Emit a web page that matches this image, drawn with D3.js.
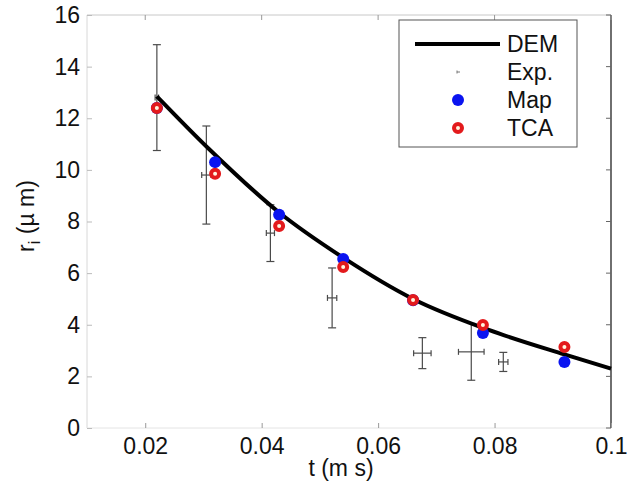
<!DOCTYPE html>
<html>
  <head>
    <meta charset="utf-8">
    <script src="https://d3js.org/d3.v7.min.js"></script>
    <style>
      body { margin: 0; background: #fff; }
      svg text { font-family: "Liberation Sans", Arial, sans-serif; fill: #111; }
    </style>
  </head>
<body>
  <script type="text/javascript">
    "use strict";
    // DEM curve
    var demT = [0.022, 0.031, 0.043, 0.054, 0.066, 0.079, 0.092, 0.1];
    var demR = [12.85, 10.8, 8.35, 6.6, 5.0, 3.8, 2.85, 2.3];
    // experimental points with error bars
    var expT = [0.022, 0.0305, 0.0415, 0.0521, 0.0676, 0.0760, 0.0815];
    var expR = [12.8, 9.8, 7.55, 5.04, 2.9, 2.95, 2.56];
    var expRErr = [2.05, 1.9, 1.1, 1.16, 0.6, 1.1, 0.37];
    var expTErr = [0.0003, 0.0008, 0.0007, 0.0008, 0.0015, 0.0022, 0.0008];
    // Map and TCA model points
    var modelT = [0.022, 0.032, 0.043, 0.054, 0.066, 0.078, 0.092];
    var mapR = [12.4, 10.3, 8.26, 6.55, 4.95, 3.68, 2.56];
    var tcaR = [12.4, 9.85, 7.83, 6.24, 4.96, 3.99, 3.14];
    // axes
    var xTicks = [0.02, 0.04, 0.06, 0.08, 0.1];
    var xTickLabels = ["0.02", "0.04", "0.06", "0.08", "0.1"];
    var yTicks = [0, 2, 4, 6, 8, 10, 12, 14, 16];
    var legendLabels = ["DEM", "Exp.", "Map", "TCA"];

    var width = 627, height = 485,
        plotLeft = 87, plotRight = 611, plotTop = 15, plotBottom = 428,
        fontSize = 23;

    var svg = d3.select("body").append("svg")
      .attr("width", width)
      .attr("height", height);

    var x = d3.scaleLinear().domain([0.01, 0.1]).range([plotLeft, plotRight]);
    var y = d3.scaleLinear().domain([0, 16]).range([plotBottom, plotTop]);

    //
    // frame: faint on left/top/bottom, dark on the right
    //
    var frame = svg.append("g").attr("class", "frame");
    frame.append("line").attr("x1", plotLeft).attr("x2", plotRight).attr("y1", plotTop).attr("y2", plotTop)
      .attr("stroke", "#c8c8c8");
    frame.append("line").attr("x1", plotLeft).attr("x2", plotLeft).attr("y1", plotTop).attr("y2", plotBottom)
      .attr("stroke", "#d8d8d8");
    frame.append("line").attr("x1", plotLeft).attr("x2", plotRight).attr("y1", plotBottom).attr("y2", plotBottom)
      .attr("stroke", "#e4e4e4");
    frame.append("line").attr("x1", plotRight).attr("x2", plotRight).attr("y1", plotTop).attr("y2", plotBottom)
      .attr("stroke", "#222").attr("stroke-width", 1.3);

    //
    // axes (ticks pointing inward)
    //
    var xAxis = d3.axisBottom(x).tickValues(xTicks)
      .tickSize(-5).tickPadding(10)
      .tickFormat(function(d, i) { return xTickLabels[i]; });
    var gx = svg.append("g")
      .attr("transform", "translate(0," + plotBottom + ")")
      .call(xAxis);
    gx.select(".domain").remove();
    gx.selectAll(".tick line").attr("stroke", "#999");
    gx.selectAll("text").attr("font-size", fontSize).attr("dy", "0.71em");

    var yAxis = d3.axisLeft(y).tickValues(yTicks)
      .tickSize(-5).tickPadding(7);
    var gy = svg.append("g")
      .attr("transform", "translate(" + plotLeft + ",0)")
      .call(yAxis);
    gy.select(".domain").remove();
    gy.selectAll(".tick line").attr("stroke", "#bbb");
    gy.selectAll("text").attr("font-size", fontSize);

    // mirrored ticks on top and right
    svg.append("g").selectAll("line").data(xTicks).enter().append("line")
      .attr("x1", function(d) { return x(d); }).attr("x2", function(d) { return x(d); })
      .attr("y1", plotTop).attr("y2", plotTop + 5).attr("stroke", "#999");
    svg.append("g").selectAll("line").data(yTicks).enter().append("line")
      .attr("x1", plotRight - 5).attr("x2", plotRight)
      .attr("y1", function(d) { return y(d); }).attr("y2", function(d) { return y(d); })
      .attr("stroke", "#666");

    // axis titles
    svg.append("text")
      .attr("x", 341).attr("y", 476)
      .attr("text-anchor", "middle")
      .attr("font-size", fontSize)
      .text("t (m s)");
    var yl = svg.append("text")
      .attr("transform", "translate(34,216)rotate(-90)")
      .attr("text-anchor", "middle")
      .attr("font-size", fontSize);
    yl.append("tspan").text("r");
    yl.append("tspan").attr("font-size", 16).attr("dy", 6).text("i");
    yl.append("tspan").attr("dy", -6).text(" (\u00b5 m)");

    //
    // experimental error bars
    //
    var expData = expT.map(function(t, i) {
      return { t: t, r: expR[i], er: expRErr[i], et: expTErr[i] };
    });
    var eb = svg.append("g").attr("class", "exp")
      .selectAll("g").data(expData).enter().append("g")
      .attr("stroke", "#4a4a4a").attr("stroke-width", 1.2);
    eb.append("line")
      .attr("x1", function(d) { return x(d.t); }).attr("x2", function(d) { return x(d.t); })
      .attr("y1", function(d) { return y(d.r + d.er); }).attr("y2", function(d) { return y(d.r - d.er); });
    eb.append("line")
      .attr("x1", function(d) { return x(d.t) - 4; }).attr("x2", function(d) { return x(d.t) + 4; })
      .attr("y1", function(d) { return y(d.r + d.er); }).attr("y2", function(d) { return y(d.r + d.er); });
    eb.append("line")
      .attr("x1", function(d) { return x(d.t) - 4; }).attr("x2", function(d) { return x(d.t) + 4; })
      .attr("y1", function(d) { return y(d.r - d.er); }).attr("y2", function(d) { return y(d.r - d.er); });
    eb.append("line")
      .attr("x1", function(d) { return x(d.t - d.et); }).attr("x2", function(d) { return x(d.t + d.et); })
      .attr("y1", function(d) { return y(d.r); }).attr("y2", function(d) { return y(d.r); });
    eb.append("line")
      .attr("x1", function(d) { return x(d.t - d.et); }).attr("x2", function(d) { return x(d.t - d.et); })
      .attr("y1", function(d) { return y(d.r) - 3; }).attr("y2", function(d) { return y(d.r) + 3; });
    eb.append("line")
      .attr("x1", function(d) { return x(d.t + d.et); }).attr("x2", function(d) { return x(d.t + d.et); })
      .attr("y1", function(d) { return y(d.r) - 3; }).attr("y2", function(d) { return y(d.r) + 3; });

    //
    // DEM curve
    //
    var line = d3.line()
      .x(function(d, i) { return x(demT[i]); })
      .y(function(d) { return y(d); })
      .curve(d3.curveMonotoneX);
    svg.append("path")
      .datum(demR)
      .attr("d", line)
      .attr("fill", "none")
      .attr("stroke", "#000")
      .attr("stroke-width", 4);

    //
    // Map and TCA markers
    //
    svg.append("g").selectAll("circle").data(mapR).enter().append("circle")
      .attr("cx", function(d, i) { return x(modelT[i]); })
      .attr("cy", function(d) { return y(d); })
      .attr("r", 6)
      .attr("fill", "#0a14f0");
    svg.append("g").selectAll("circle").data(tcaR).enter().append("circle")
      .attr("cx", function(d, i) { return x(modelT[i]); })
      .attr("cy", function(d) { return y(d); })
      .attr("r", 4)
      .attr("fill", "#fff6e0")
      .attr("stroke", "#e31a1c")
      .attr("stroke-width", 4);

    //
    // legend
    //
    var legend = svg.append("g").attr("class", "legend");
    legend.append("rect")
      .attr("x", 399).attr("y", 20).attr("width", 178).attr("height", 127)
      .attr("fill", "#fff").attr("stroke", "#555").attr("stroke-width", 1);
    var rows = legend.selectAll("g.row").data(legendLabels).enter().append("g")
      .attr("class", "row")
      .attr("transform", function(d, i) { return "translate(0," + (44 + 28 * i) + ")"; });
    rows.append("text")
      .attr("x", 507).attr("y", 8)
      .attr("font-size", fontSize)
      .text(function(d) { return d; });
    legend.append("line")
      .attr("x1", 415).attr("x2", 500).attr("y1", 44).attr("y2", 44)
      .attr("stroke", "#000").attr("stroke-width", 4);
    legend.append("line")
      .attr("x1", 457).attr("x2", 460).attr("y1", 72).attr("y2", 72)
      .attr("stroke", "#777");
    legend.append("line")
      .attr("x1", 457).attr("x2", 457).attr("y1", 70.5).attr("y2", 73.5)
      .attr("stroke", "#777");
    legend.append("circle")
      .attr("cx", 458).attr("cy", 100).attr("r", 6).attr("fill", "#0a14f0");
    legend.append("circle")
      .attr("cx", 458).attr("cy", 128).attr("r", 4)
      .attr("fill", "#fff6e0").attr("stroke", "#e31a1c").attr("stroke-width", 4);
  </script>
</body>
</html>
